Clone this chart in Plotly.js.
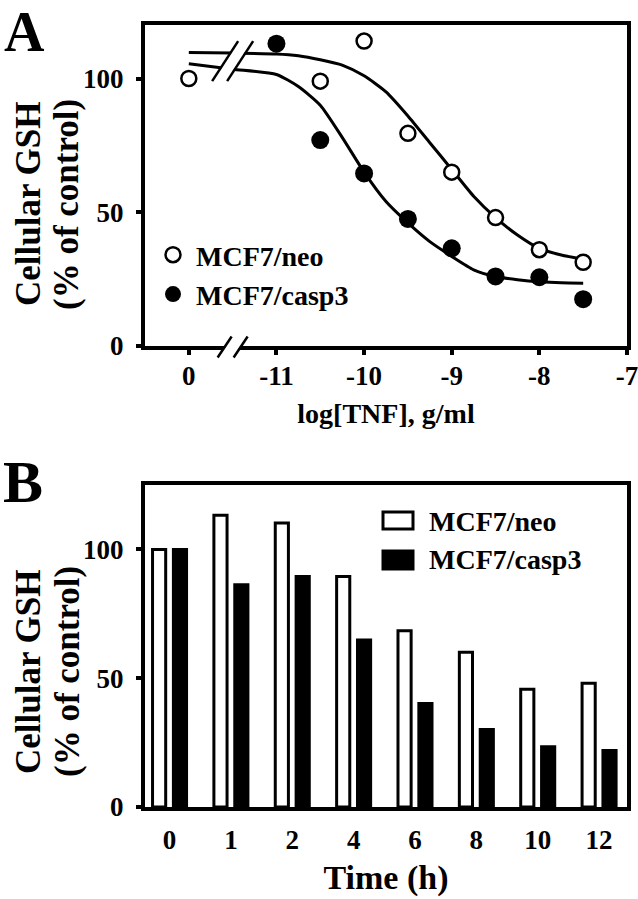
<!DOCTYPE html>
<html><head><meta charset="utf-8">
<script src="https://cdn.plot.ly/plotly-3.0.1.min.js"></script>
<style>html,body{margin:0;padding:0;background:#fff}</style>
</head><body><div id="chart" style="width:638px;height:899px"></div>
<script>
// ---------- Panel A data ----------
const controlLabel = '0';
const doseTicks = [-11, -10, -9, -8, -7];
const neoDose = ['control', -10.5, -10, -9.5, -9, -8.5, -8, -7.5];
const neoGSH = [100, 99, 114, 79.5, 65, 48, 36, 31.3];
const caspDose = [-11, -10.5, -10, -9.5, -9, -8.5, -8, -7.5];
const caspGSH = [113, 77, 64.5, 47.5, 36.5, 26, 25.7, 17.5];
const fitDose = ['control', -11.5, -11, -10.75, -10.5, -10.25, -10, -9.75, -9.5, -9.25, -9, -8.75, -8.5, -8.25, -8, -7.75, -7.5];
const neoFit = [109.7, 109.5, 109.2, 108.5, 107, 105, 101, 95, 86, 76, 66, 56, 48, 41.5, 36.5, 34, 32.5];
const caspFit = [105.5, 103.5, 101.5, 97, 90, 78, 65, 54, 46, 39, 33.5, 28.5, 26, 24.8, 24, 23.6, 23.5];
const seriesNames = ['MCF7/neo', 'MCF7/casp3'];
// ---------- Panel B data ----------
const timeLabels = ['0', '1', '2', '4', '6', '8', '10', '12'];
const neoTime = [100, 113.3, 110.2, 89.5, 68.4, 60.1, 45.7, 48];
const caspTime = [100, 86.3, 89.5, 64.8, 40.2, 30.1, 23.4, 21.9];
const yTicks = [0, 50, 100];

// ---------- geometry ----------
const FONT = 'Liberation Serif, Times New Roman, serif';
const W = 638, H = 899, L = 145, R = 11, T = 25, B = 92;
const pw = W - L - R, ph = H - T - B;
const px2x = p => (p - L) / pw;
const py2y = p => (H - B - p) / ph;
const domA = [py2y(346), 1];
const domB = [0, py2y(485)];
const controlPos = -12;
const breakPos = -11.5;
const xRangeA = [-12.5, -7];
const yRangeA = [0, 120];
const yRangeB = [0, 125];
const mapDose = d => d === 'control' ? controlPos : d;

const bold = (size) => ({family: FONT, size: size, color: '#000', weight: 'bold'});

const traces = [
  {x: fitDose.map(mapDose), y: neoFit, mode: 'lines', line: {color: '#000', width: 3, shape: 'spline', smoothing: 0.6},
   xaxis: 'x', yaxis: 'y', showlegend: false, hoverinfo: 'skip'},
  {x: fitDose.map(mapDose), y: caspFit, mode: 'lines', line: {color: '#000', width: 3, shape: 'spline', smoothing: 0.6},
   xaxis: 'x', yaxis: 'y', showlegend: false, hoverinfo: 'skip'},
  {x: neoDose.map(mapDose), y: neoGSH, mode: 'markers', name: seriesNames[0],
   marker: {symbol: 'circle', size: 15, color: '#fff', line: {color: '#000', width: 2.5}},
   xaxis: 'x', yaxis: 'y', cliponaxis: false},
  {x: caspDose.map(mapDose), y: caspGSH, mode: 'markers', name: seriesNames[1],
   marker: {symbol: 'circle', size: 18, color: '#000', line: {color: '#000', width: 0}},
   xaxis: 'x', yaxis: 'y', cliponaxis: false},
  {type: 'bar', x: timeLabels, y: neoTime, name: seriesNames[0], xaxis: 'x2', yaxis: 'y2', showlegend: false,
   marker: {color: '#fff', line: {color: '#000', width: 3}}},
  {type: 'bar', x: timeLabels, y: caspTime, name: seriesNames[1], xaxis: 'x2', yaxis: 'y2', showlegend: false,
   marker: {color: '#000', line: {color: '#000', width: 3}}}
];

const axisStyle = {
  showline: true, linewidth: 4, linecolor: '#000', mirror: true,
  showgrid: false, zeroline: false, tickfont: bold(27), tickcolor: '#000'
};

// break marks (pixel offsets around a centre tied to the axis)
const xa2px = v => L + (v - xRangeA[0]) / (xRangeA[1] - xRangeA[0]) * pw;
const yaA2px = v => (H - B) - (domA[0] * ph) - v / yRangeA[1] * ((domA[1] - domA[0]) * ph);
function breakShapes(cx, cy, dx, dy, sep) {
  const P = (x, y) => px2x(x) + ',' + py2y(y);
  const a1 = [cx - sep / 2 - dx / 2, cy + dy / 2], a2 = [cx - sep / 2 + dx / 2, cy - dy / 2];
  const b1 = [cx + sep / 2 - dx / 2, cy + dy / 2], b2 = [cx + sep / 2 + dx / 2, cy - dy / 2];
  return [
    {type: 'path', xref: 'paper', yref: 'paper', layer: 'above', line: {width: 0}, fillcolor: '#fff',
     path: 'M' + P(a1[0] + 1, a1[1]) + 'L' + P(a2[0] + 1, a2[1]) + 'L' + P(b2[0] - 1, b2[1]) + 'L' + P(b1[0] - 1, b1[1]) + 'Z'},
    {type: 'path', xref: 'paper', yref: 'paper', layer: 'above', line: {color: '#000', width: 2.5},
     path: 'M' + P(a1[0], a1[1]) + 'L' + P(a2[0], a2[1])},
    {type: 'path', xref: 'paper', yref: 'paper', layer: 'above', line: {color: '#000', width: 2.5},
     path: 'M' + P(b1[0], b1[1]) + 'L' + P(b2[0], b2[1])}
  ];
}
const bx = xa2px(breakPos);
const shapes = [].concat(
  breakShapes(bx, 347, 14, 21, 16),
  breakShapes(bx, yaA2px(106.5), 26, 40, 15),
  [
    {type: 'rect', xref: 'paper', yref: 'paper', x0: px2x(383), x1: px2x(413), y0: py2y(529), y1: py2y(512),
     fillcolor: '#fff', line: {color: '#000', width: 3}},
    {type: 'rect', xref: 'paper', yref: 'paper', x0: px2x(383), x1: px2x(413), y0: py2y(569), y1: py2y(551),
     fillcolor: '#000', line: {color: '#000', width: 3}}
  ]
);

const ann = (text, x, y, size, opts) => Object.assign({text: text, x: px2x(x), y: py2y(y), xref: 'paper', yref: 'paper',
  showarrow: false, font: bold(size), xanchor: 'center', yanchor: 'middle'}, opts || {});

const annotations = [
  ann('A', 24, 32, 56),
  ann('B', 23, 482, 60),
  ann('Cellular GSH', 28, 204, 35, {textangle: -90}),
  ann('(% of control)', 67, 205, 35, {textangle: -90}),
  ann('Cellular GSH', 28, 672, 35, {textangle: -90}),
  ann('(% of control)', 67, 672, 35, {textangle: -90}),
  ann(seriesNames[0], 427, 521, 28, {xanchor: 'left'}),
  ann(seriesNames[1], 427, 559, 28, {xanchor: 'left'})
];

const layout = {
  width: W, height: H,
  margin: {l: L, r: R, t: T, b: B},
  paper_bgcolor: '#fff', plot_bgcolor: '#fff',
  font: bold(27),
  showlegend: true,
  legend: {x: px2x(150), y: py2y(230), xanchor: 'left', yanchor: 'top', bgcolor: 'rgba(0,0,0,0)',
           font: bold(28), tracegroupgap: 0, itemsizing: 'trace', itemwidth: 36},
  barmode: 'group', bargap: 0.32, bargroupgap: 0.37,
  xaxis: Object.assign({}, axisStyle, {
    domain: [0, 1], anchor: 'y', range: xRangeA,
    tickmode: 'array', tickvals: [controlPos].concat(doseTicks), ticktext: [controlLabel].concat(doseTicks.map(v => String(v))),
    ticks: 'outside', ticklen: 5, tickwidth: 4, ticklabelstandoff: -2, ticklabeloverflow: 'allow',
    title: {text: 'log[TNF], g/ml', font: bold(28), standoff: 14}
  }),
  yaxis: Object.assign({}, axisStyle, {
    domain: domA, anchor: 'x', range: yRangeA, tickmode: 'array', tickvals: yTicks,
    ticks: 'outside', ticklen: 5, tickwidth: 4, ticklabelstandoff: 7
  }),
  xaxis2: Object.assign({}, axisStyle, {
    domain: [0, 1], anchor: 'y2', type: 'category', range: [-0.4, 7.455],
    ticks: '', ticklabelstandoff: 6,
    title: {text: 'Time (h)', font: bold(34), standoff: 12}
  }),
  yaxis2: Object.assign({}, axisStyle, {
    domain: domB, anchor: 'x2', range: yRangeB, tickmode: 'array', tickvals: yTicks,
    ticks: 'outside', ticklen: 5, tickwidth: 4, ticklabelstandoff: 7
  }),
  shapes: shapes,
  annotations: annotations
};

Plotly.newPlot('chart', traces, layout, {displayModeBar: false, staticPlot: true});
</script>
</body></html>
